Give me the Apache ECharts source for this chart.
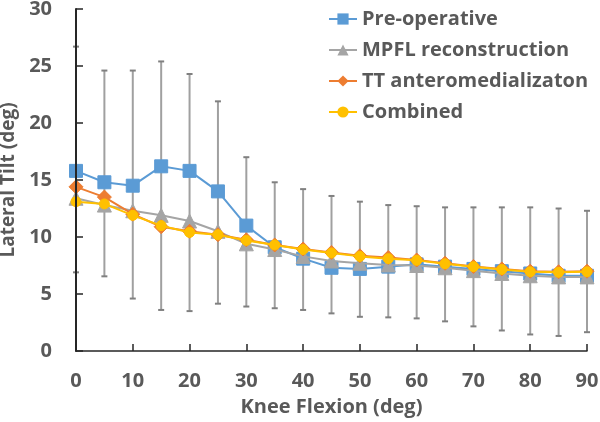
<!DOCTYPE html>
<html>
<head>
<meta charset="utf-8">
<script src="https://cdn.jsdelivr.net/npm/echarts@6/dist/echarts.min.js"></script>
<style>html,body{margin:0;padding:0;background:#fff}#c{width:600px;height:422px}</style>
</head>
<body>
<div id="c"></div>
<script>
var flexion = [0,5,10,15,20,25,30,35,40,45,50,55,60,65,70,75,80,85,90];
var preOp   = [15.8,14.8,14.5,16.2,15.8,14.0,11.0,9.1,8.1,7.3,7.2,7.4,7.6,7.4,7.2,7.0,6.8,6.6,6.6];
var mpfl    = [13.4,12.8,12.3,11.9,11.4,10.5,9.4,8.9,8.3,7.9,7.7,7.55,7.5,7.3,7.05,6.8,6.6,6.5,6.5];
var tt      = [14.4,13.5,12.0,10.9,10.5,10.2,9.75,9.3,8.95,8.65,8.35,8.2,7.98,7.7,7.42,7.2,7.0,6.95,7.0];
var combined= [13.1,12.9,11.9,11.0,10.4,10.2,9.7,9.3,8.9,8.6,8.3,8.1,7.95,7.65,7.4,7.15,6.95,6.9,6.95];
var errUpper= [26.7,24.6,24.6,25.4,24.3,21.9,17.0,14.8,14.2,13.6,13.1,12.8,12.7,12.6,12.6,12.6,12.6,12.5,12.3];
var errLower= [6.9,6.55,4.6,3.6,3.5,4.15,3.9,3.75,3.6,3.3,3.0,2.95,2.86,2.6,2.16,1.8,1.45,1.32,1.65];
var xTicks = [0,10,20,30,40,50,60,70,80,90];
var yTicks = [0,5,10,15,20,25,30];

var FONT = '"Open Sans", "Noto Sans", sans-serif';
var TXT = '#595959';

function pairs(arr){ return flexion.map(function(x,i){ return [x, arr[i]]; }); }

var errData = flexion.map(function(x,i){ return [x, errLower[i], errUpper[i]]; });

var chart = echarts.init(document.getElementById('c'), null, {renderer:'canvas'});
chart.setOption({
  animation: false,
  backgroundColor: '#fff',
  grid: { left: 76, right: 13, top: 9, bottom: 71, containLabel: false, outerBoundsMode: 'none' },
  legend: {
    orient: 'vertical', left: 323, top: 3,
    itemWidth: 28, itemHeight: 14, itemGap: 9,
    textStyle: { fontFamily: FONT, fontSize: 20, fontWeight: 'bold', color: TXT, lineHeight: 22 },
    data: ['Pre-operative','MPFL reconstruction','TT anteromedializaton','Combined']
  },
  xAxis: {
    type: 'value', min: 0, max: 90, interval: 10, z: 10,
    name: 'Knee Flexion (deg)', nameLocation: 'middle', nameGap: 46,
    nameTextStyle: { fontFamily: FONT, fontSize: 20, fontWeight: 'bold', color: TXT },
    axisLine: { show: true, lineStyle: { color: '#262626', width: 1.5 } },
    axisTick: { show: true, inside: true, length: 7, lineStyle: { color: '#262626', width: 1.5 } },
    axisLabel: { margin: 20, fontFamily: FONT, fontSize: 20, fontWeight: 'bold', color: TXT,
      formatter: function(v){ return xTicks.indexOf(v) >= 0 ? String(v) : ''; } },
    splitLine: { show: false }
  },
  yAxis: {
    type: 'value', min: 0, max: 30, interval: 5, z: 10,
    name: 'Lateral Tilt (deg)', nameLocation: 'middle', nameGap: 50,
    nameTextStyle: { fontFamily: FONT, fontSize: 19, fontWeight: 'bold', color: TXT },
    axisLine: { show: true, lineStyle: { color: '#262626', width: 2 } },
    axisTick: { show: true, inside: true, length: 7, lineStyle: { color: '#262626', width: 1.5 } },
    axisLabel: { margin: 24, fontFamily: FONT, fontSize: 20, fontWeight: 'bold', color: TXT,
      formatter: function(v){ return yTicks.indexOf(v) >= 0 ? String(v) : ''; } },
    splitLine: { show: false }
  },
  series: [
    {
      type: 'custom', name: 'err', silent: true, z: 1,
      data: errData,
      renderItem: function(params, api){
        var x = api.value(0);
        var lo = api.coord([x, api.value(1)]);
        var hi = api.coord([x, api.value(2)]);
        var w = 3;
        var st = { stroke: '#a0a0a0', lineWidth: 2 };
        return { type: 'group', children: [
          { type: 'line', shape: { x1: lo[0], y1: lo[1], x2: hi[0], y2: hi[1] }, style: st },
          { type: 'line', shape: { x1: hi[0]-w, y1: hi[1], x2: hi[0]+w, y2: hi[1] }, style: { stroke: '#808080', lineWidth: 2 } },
          { type: 'line', shape: { x1: lo[0]-w, y1: lo[1], x2: lo[0]+w, y2: lo[1] }, style: { stroke: '#808080', lineWidth: 2 } }
        ]};
      }
    },
    {
      type: 'line', name: 'Pre-operative', z: 2, data: pairs(preOp),
      symbol: 'rect', symbolSize: 13,
      lineStyle: { color: '#5b9bd5', width: 2 },
      itemStyle: { color: '#5b9bd5', borderColor: '#5b9bd5' }
    },
    {
      type: 'line', name: 'MPFL reconstruction', z: 3, data: pairs(mpfl),
      symbol: 'triangle', symbolSize: 14,
      lineStyle: { color: '#a5a5a5', width: 2 },
      itemStyle: { color: '#a5a5a5', borderColor: '#a5a5a5' }
    },
    {
      type: 'line', name: 'TT anteromedializaton', z: 4, data: pairs(tt),
      symbol: 'diamond', symbolSize: 14,
      lineStyle: { color: '#ed7d31', width: 2 },
      itemStyle: { color: '#ed7d31', borderColor: '#ed7d31' }
    },
    {
      type: 'line', name: 'Combined', z: 5, data: pairs(combined),
      symbol: 'circle', symbolSize: 10,
      lineStyle: { color: '#ffc000', width: 2 },
      itemStyle: { color: '#ffc000', borderColor: '#ffc000' }
    }
  ]
});
</script>
</body>
</html>
